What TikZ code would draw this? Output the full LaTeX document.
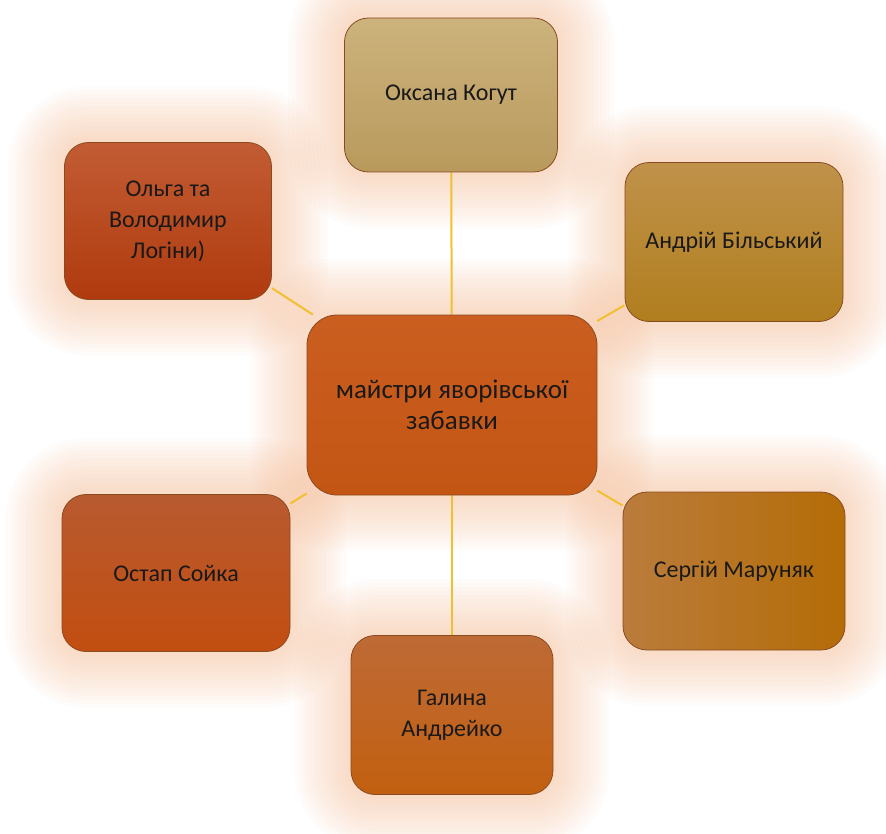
\documentclass[tikz,border=0pt]{standalone}
\usepackage{fontspec}
\setmainfont{Carlito}
\usepackage{xcolor}
\usetikzlibrary{backgrounds,calc}

\definecolor{linkgold}{HTML}{F0C030}
\definecolor{glowpeach}{HTML}{F2B48A}
\definecolor{rimbrown}{HTML}{8A4A20}

\begin{document}
\begin{tikzpicture}[x=1pt, y=-1pt,
        person/.style={rectangle, rounded corners=24pt, draw=rimbrown, line width=0.8pt,
            align=center, text=black!90, font=\fontsize{24}{31}\selectfont},
        hub/.style={person, rounded corners=30pt, font=\fontsize{27}{31}\selectfont},
        link/.style={draw=linkgold, line width=2pt},
        glow/.style={fill=glowpeach, opacity=0.045}
    ]
        \useasboundingbox (0,0) rectangle (886,834);

        \node[hub, minimum width=290pt, minimum height=180pt,
            top color={rgb,255:red,202;green,94;blue,32}, bottom color={rgb,255:red,196;green,86;blue,20}] (masters) at (452,405) {майстри яворівської\\забавки};
        \node[person, minimum width=213pt, minimum height=154pt,
            top color={rgb,255:red,204;green,178;blue,124}, bottom color={rgb,255:red,184;green,154;blue,92}] (kohut) at (451,95) {Оксана Когут};
        \node[person, minimum width=207pt, minimum height=157pt,
            top color={rgb,255:red,194;green,92;blue,52}, bottom color={rgb,255:red,176;green,58;blue,14}] (lohyny) at (168,221) {Ольга та\\Володимир\\Логіни)};
        \node[person, minimum width=218pt, minimum height=159pt,
            top color={rgb,255:red,192;green,146;blue,74}, bottom color={rgb,255:red,176;green,126;blue,30}] (bilskyi) at (734,242) {Андрій Більський};
        \node[person, minimum width=222pt, minimum height=158pt,
            left color={rgb,255:red,186;green,124;blue,60}, right color={rgb,255:red,180;green,108;blue,6}] (maruniak) at (734,571) {Сергій Маруняк};
        \node[person, minimum width=202pt, minimum height=159pt,
            top color={rgb,255:red,190;green,106;blue,54}, bottom color={rgb,255:red,194;green,96;blue,16}] (andreiko) at (452,715) {Галина\\Андрейко};
        \node[person, minimum width=228pt, minimum height=157pt,
            top color={rgb,255:red,184;green,90;blue,48}, bottom color={rgb,255:red,194;green,78;blue,16}] (soika) at (176,573) {Остап Сойка};

        \begin{pgfonlayer}{background}
            % soft halo round every box
            \foreach \b in {masters,kohut,lohyny,bilskyi,maruniak,andreiko,soika}
                \foreach \g in {4,8,...,56}
                    \fill[glow, rounded corners=24pt+\g pt] ($(\b.south west)+(-\g,\g)$) rectangle ($(\b.north east)+(\g,-\g)$);

            \draw[link] (masters) -- (kohut);
            \draw[link] (masters) -- (lohyny);
            \draw[link] (masters) -- (bilskyi);
            \draw[link] (masters) -- (maruniak);
            \draw[link] (masters) -- (andreiko);
            \draw[link] (masters) -- (soika);
        \end{pgfonlayer}
    \end{tikzpicture}
\end{document}
